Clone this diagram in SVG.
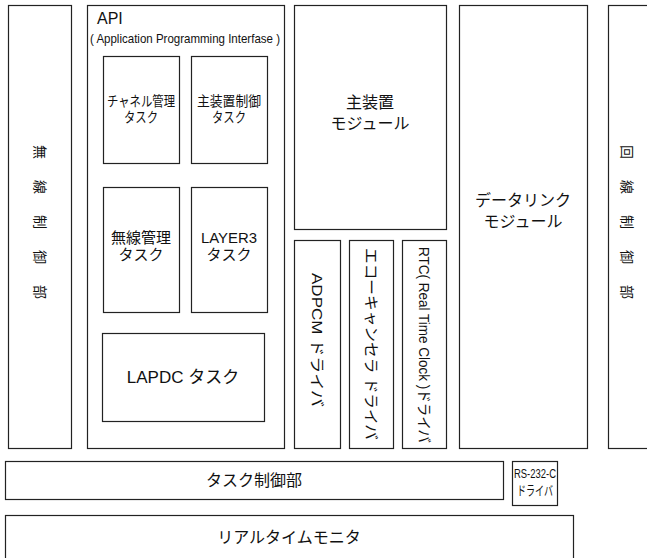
<svg xmlns="http://www.w3.org/2000/svg" width="647" height="558" viewBox="0 0 647 558">
<style>
rect{fill:#fff;stroke:#222;stroke-width:1.2}
text{font-family:"Liberation Sans","Noto Sans CJK JP",sans-serif;fill:#111;text-anchor:middle}
.s13{font-size:14px}
.s14{font-size:15px}
.s15{font-size:16px}
.v{font-size:14px;text-anchor:start;dominant-baseline:central;letter-spacing:21px}
.d{font-size:15px;dominant-baseline:central}
</style>
<rect x="0" y="0" width="647" height="558" style="fill:#fff;stroke:none"/>
<g id="musen">
<rect x="8.5" y="5.5" width="63" height="443"/>
<text class="v" transform="translate(40,145) rotate(90)">無線制御部</text>
</g>
<g id="api">
<rect x="87.5" y="5.5" width="197" height="443"/>
<text x="97" y="24" style="text-anchor:start;font-size:16px">API</text>
<text x="185" y="43" style="font-size:13px" textLength="190" lengthAdjust="spacingAndGlyphs">( Application Programming Interfase )</text>
</g>
<g id="channel">
<rect x="103.5" y="56.5" width="76" height="107"/>
<text class="s13" x="141" y="106" textLength="68" lengthAdjust="spacingAndGlyphs">チャネル管理</text>
<text class="s13" x="141" y="122" textLength="34" lengthAdjust="spacingAndGlyphs">タスク</text>
</g>
<g id="shusochiseigyo">
<rect x="191.5" y="56.5" width="76" height="107"/>
<text class="s13" x="229" y="106" textLength="64" lengthAdjust="spacingAndGlyphs">主装置制御</text>
<text class="s13" x="229" y="122" textLength="34" lengthAdjust="spacingAndGlyphs">タスク</text>
</g>
<g id="musenkanri">
<rect x="103.5" y="187.5" width="76" height="125"/>
<text class="s14" x="141" y="243">無線管理</text>
<text class="s14" x="141" y="260">タスク</text>
</g>
<g id="layer3">
<rect x="191.5" y="187.5" width="76" height="125"/>
<text class="s14" x="229" y="243" textLength="56" lengthAdjust="spacingAndGlyphs">LAYER3</text>
<text class="s14" x="229" y="260">タスク</text>
</g>
<g id="lapdc">
<rect x="102.5" y="333.5" width="162" height="88"/>
<text x="183" y="383" style="font-size:17px">LAPDC タスク</text>
</g>
<g id="shusochi">
<rect x="294.5" y="5.5" width="152" height="224"/>
<text class="s15" x="370" y="108">主装置</text>
<text class="s15" x="370" y="129">モジュール</text>
</g>
<g id="adpcm">
<rect x="294.5" y="240.5" width="46" height="208"/>
<text class="d" transform="translate(317,340) rotate(90)" textLength="134" lengthAdjust="spacingAndGlyphs">ADPCM ドライバ</text>
</g>
<g id="echo">
<rect x="349.5" y="240.5" width="44" height="208"/>
<text class="d" transform="translate(371,344) rotate(90)" textLength="192" lengthAdjust="spacingAndGlyphs">エコーキャンセラ ドライバ</text>
</g>
<g id="rtc">
<rect x="402.5" y="240.5" width="44" height="208"/>
<text class="d" transform="translate(424,345) rotate(90)" textLength="196" lengthAdjust="spacingAndGlyphs">RTC( Real Time Clock )ドライバ</text>
</g>
<g id="datalink">
<rect x="459.5" y="5.5" width="128" height="443"/>
<text class="s15" x="523" y="206">データリンク</text>
<text class="s15" x="523" y="227">モジュール</text>
</g>
<g id="kaisen">
<rect x="608.5" y="5.5" width="50" height="443"/>
<text class="v" transform="translate(627,145) rotate(90)">回線制御部</text>
</g>
<g id="taskseigyo">
<rect x="5.5" y="461.5" width="498" height="38"/>
<text class="s15" x="254" y="486">タスク制御部</text>
</g>
<g id="rs232c">
<rect x="512.5" y="461.5" width="45" height="44"/>
<text x="535" y="478" style="font-size:13px" textLength="42" lengthAdjust="spacingAndGlyphs">RS-232-C</text>
<text x="535" y="495" style="font-size:13px" textLength="36" lengthAdjust="spacingAndGlyphs">ドライバ</text>
</g>
<g id="realtime">
<rect x="5.5" y="515.5" width="568" height="46"/>
<text class="s15" x="289" y="543">リアルタイムモニタ</text>
</g>
<g id="connectors"></g>
</svg>
